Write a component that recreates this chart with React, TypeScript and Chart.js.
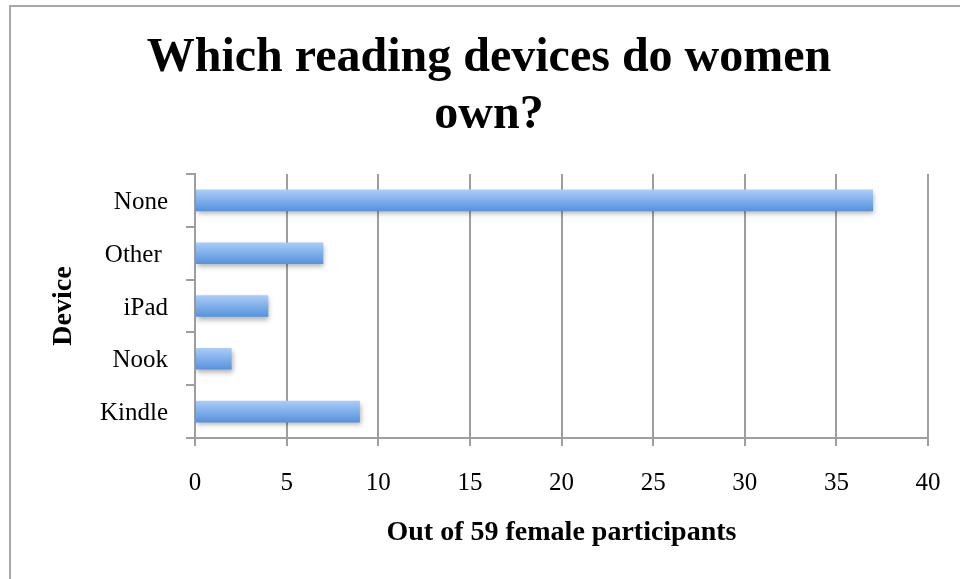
import React, { useEffect, useRef } from "react";
import { Chart, registerables } from "chart.js";

Chart.register(...registerables);

const categories = ["None", "Other ", "iPad", "Nook", "Kindle"];
const counts = [37, 7, 4, 2, 9];
const xMin = 0;
const xMax = 40;
const xStep = 5;
const titleLines = ["Which reading devices do women", "own?"];
const xTitle = "Out of 59 female participants";
const yTitle = "Device";

const FONT = "'Liberation Serif', 'Times New Roman', serif";
const GRID = "#9e9e9e";
const BAR_PCT = 0.41;

const shadowPlugin = {
  id: "barShadow",
  beforeDatasetsDraw(chart: any) {
    const ctx = chart.ctx;
    ctx.save();
    ctx.shadowColor = "rgba(0,0,0,0.3)";
    ctx.shadowBlur = 5;
    ctx.shadowOffsetX = 1;
    ctx.shadowOffsetY = 3;
  },
  afterDatasetsDraw(chart: any) {
    chart.ctx.restore();
  },
};

export default function App() {
  const ref = useRef<HTMLCanvasElement | null>(null);

  useEffect(() => {
    if (!ref.current) return;
    const chart = new Chart(ref.current, {
      type: "bar",
      data: {
        labels: categories,
        datasets: [
          {
            data: counts,
            borderWidth: 0,
            categoryPercentage: 1,
            barPercentage: BAR_PCT,
            backgroundColor: (c: any) => {
              const ch = c.chart;
              const area = ch.chartArea;
              if (!area || c.type !== "data" || !ch.scales.y) return "#7fb0ee";
              const y = ch.scales.y.getPixelForValue(c.dataIndex);
              const band = (area.bottom - area.top) / categories.length;
              const h = band * BAR_PCT;
              const g = ch.ctx.createLinearGradient(0, y - h / 2, 0, y + h / 2);
              g.addColorStop(0, "#abcdf9");
              g.addColorStop(1, "#5592dc");
              return g;
            },
          },
        ],
      },
      options: {
        indexAxis: "y",
        responsive: false,
        animation: false,
        events: [],
        layout: { padding: { left: 18, right: 0, top: 0, bottom: 0 } },
        plugins: {
          legend: { display: false },
          tooltip: { enabled: false },
          title: {
            display: true,
            text: titleLines,
            color: "#000",
            font: { family: FONT, size: 48, weight: "bold", lineHeight: 57 / 48 },
            padding: { top: 30, bottom: 30 },
          },
        },
        scales: {
          x: {
            type: "linear",
            min: xMin,
            max: xMax,
            ticks: {
              stepSize: xStep,
              color: "#000",
              font: { family: FONT, size: 25 },
              padding: 22,
              maxRotation: 0,
              autoSkip: false,
            },
            grid: {
              color: GRID,
              lineWidth: 2,
              drawTicks: true,
              tickLength: 8,
            },
            border: { display: true, color: GRID, width: 2 },
            title: {
              display: true,
              text: xTitle,
              color: "#000",
              font: { family: FONT, size: 28, weight: "bold", lineHeight: 1.2 },
              padding: { top: 0, bottom: 29 },
            },
            afterFit: (s: any) => {
              s.height = 141;
              s.paddingRight = 32;
              s.paddingLeft = 0;
            },
          },
          y: {
            ticks: {
              color: "#000",
              font: { family: FONT, size: 25 },
              padding: 18,
              labelOffset: 2,
            },
            grid: {
              color: GRID,
              lineWidth: 2,
              drawOnChartArea: false,
              drawTicks: true,
              tickLength: 9,
              offset: true,
            },
            border: { display: true, color: GRID, width: 2 },
            title: {
              display: true,
              text: yTitle,
              color: "#000",
              font: { family: FONT, size: 28, weight: "bold", lineHeight: 1.2 },
              padding: { top: 29, bottom: 0 },
            },
            afterFit: (s: any) => {
              s.width = 177;
            },
          },
        },
      },
      plugins: [shadowPlugin],
    } as any);
    return () => chart.destroy();
  }, []);

  return (
    <div
      style={{
        position: "absolute",
        left: 0,
        top: 0,
        width: 960,
        height: 579,
        overflow: "hidden",
        background: "#fff",
      }}
    >
      <div
        style={{
          position: "absolute",
          left: 9,
          top: 5,
          width: 1100,
          height: 1100,
          borderTop: "2px solid #a8a8a8",
          borderLeft: "2px solid #a8a8a8",
        }}
      />
      <canvas
        ref={ref}
        width={960}
        height={579}
        style={{ position: "absolute", left: 0, top: 0, width: 960, height: 579, display: "block" }}
      />
    </div>
  );
}
